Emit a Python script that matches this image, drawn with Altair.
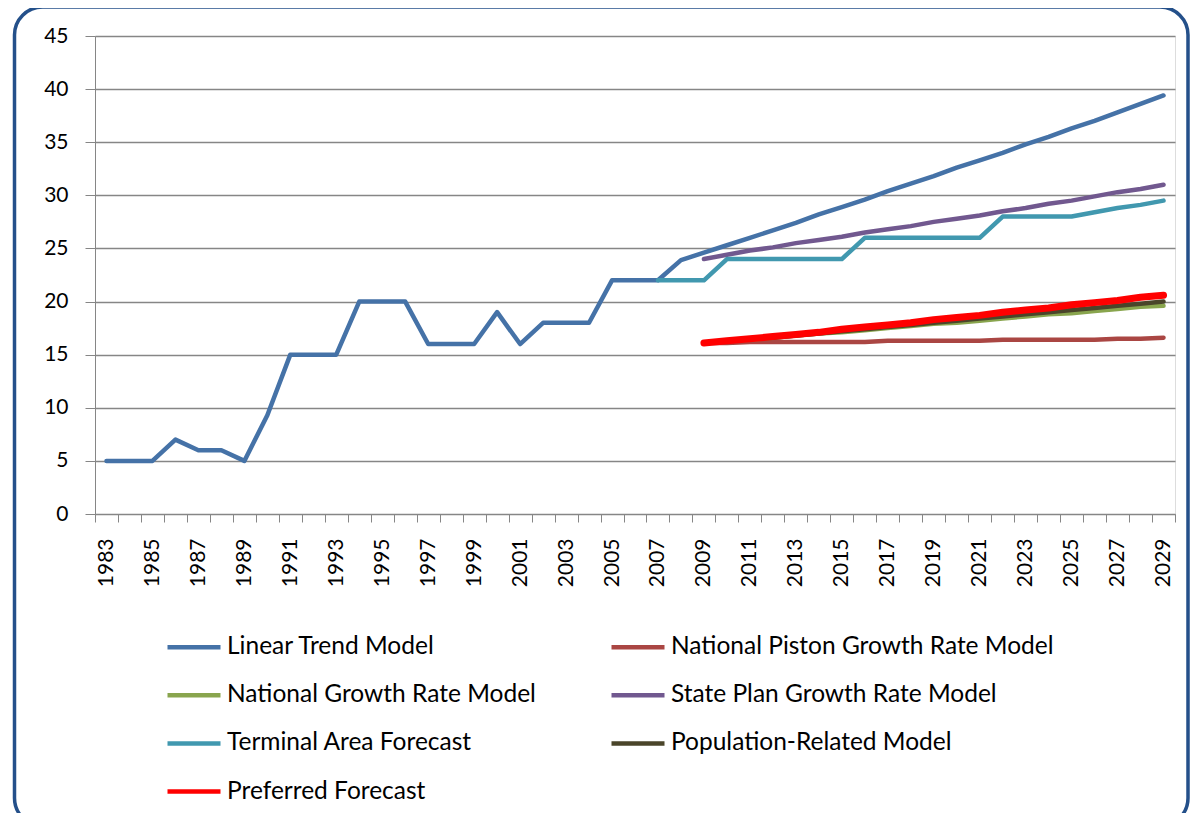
import altair as alt
import pandas as pd

years = list(range(1983, 2030))

series_names = [
    "Linear Trend Model",
    "National Piston Growth Rate Model",
    "National Growth Rate Model",
    "State Plan Growth Rate Model",
    "Terminal Area Forecast",
    "Population-Related Model",
    "Preferred Forecast",
]
series_colors = ["#4572A7", "#AA4643", "#89A54E", "#71588F", "#4198AF", "#4A452A", "#FF0000"]

# Linear Trend Model: 1983-2029
linear_trend = [5, 5, 5, 7, 6, 6, 5, 9.3, 15, 15, 15, 20, 20, 20, 16, 16, 16, 19, 16, 18,
                18, 18, 22, 22, 22, 23.9, 24.6, 25.3, 26.0, 26.7, 27.4, 28.2, 28.9, 29.6,
                30.4, 31.1, 31.8, 32.6, 33.3, 34.0, 34.8, 35.5, 36.3, 37.0, 37.8, 38.6, 39.4]
# Terminal Area Forecast: 2007-2029
taf_start = 2007
terminal_area = [22, 22, 22, 24, 24, 24, 24, 24, 24, 26, 26, 26, 26, 26, 26, 28, 28, 28, 28,
                 28.4, 28.8, 29.1, 29.5]
# Forecast models: 2009-2029
fc_start = 2009
national_piston = [16.1, 16.1, 16.2, 16.2, 16.2, 16.2, 16.2, 16.2, 16.3, 16.3, 16.3, 16.3,
                   16.3, 16.4, 16.4, 16.4, 16.4, 16.4, 16.5, 16.5, 16.6]
national_growth = [16.1, 16.3, 16.4, 16.6, 16.8, 17.0, 17.1, 17.3, 17.5, 17.7, 17.9, 18.0,
                   18.2, 18.4, 18.6, 18.8, 18.9, 19.1, 19.3, 19.5, 19.6]
state_plan = [24.0, 24.4, 24.8, 25.1, 25.5, 25.8, 26.1, 26.5, 26.8, 27.1, 27.5, 27.8, 28.1,
              28.5, 28.8, 29.2, 29.5, 29.9, 30.3, 30.6, 31.0]
population_related = [16.1, 16.3, 16.5, 16.6, 16.8, 17.0, 17.2, 17.4, 17.6, 17.8, 18.0, 18.2,
                      18.4, 18.6, 18.8, 19.0, 19.2, 19.4, 19.6, 19.8, 20.0]
preferred = [16.1, 16.3, 16.5, 16.7, 16.9, 17.1, 17.4, 17.6, 17.8, 18.0, 18.3, 18.5, 18.7,
             19.0, 19.2, 19.4, 19.7, 19.9, 20.1, 20.4, 20.6]

y_ticks = list(range(0, 50, 5))

series_data = [
    (series_names[0], years[0], linear_trend),
    (series_names[1], fc_start, national_piston),
    (series_names[2], fc_start, national_growth),
    (series_names[3], fc_start, state_plan),
    (series_names[4], taf_start, terminal_area),
    (series_names[5], fc_start, population_related),
    (series_names[6], fc_start, preferred),
]

rows = []
for name, start, vals in series_data:
    for i, v in enumerate(vals):
        rows.append({"year": str(start + i), "value": v, "series": name})
df = pd.DataFrame(rows)

# legend fills column by column: reorder so it reads row by row like the original
legend_order = [0, 2, 4, 6, 1, 3, 5]
legend_domain = [series_names[i] for i in legend_order]
legend_range = [series_colors[i] for i in legend_order]

FONT = "Lato"
W, H = 1080, 478

color = alt.Color(
    "series:N",
    scale=alt.Scale(domain=legend_domain, range=legend_range),
    legend=alt.Legend(
        title=None,
        orient="none",
        legendX=70,
        legendY=582,
        columns=2,
        symbolType="stroke",
        symbolSize=2809,
        symbolStrokeWidth=4.5,
        labelFont=FONT,
        labelFontSize=24.5,
        labelColor="#000000",
        labelOffset=4,
        labelLimit=600,
        rowPadding=7.2,
        columnPadding=66,
    ),
)

x = alt.X(
    "year:O",
    bandPosition=0.5,
    scale=alt.Scale(type="band", domain=[str(y) for y in years], paddingInner=0, paddingOuter=0),
    axis=alt.Axis(
        title=None,
        labelAngle=270,
        labelExpr="(toNumber(datum.value) - 1983) % 2 == 0 ? datum.label : ''",
        labelOverlap=False,
        labelFont=FONT,
        labelFontSize=21,
        labelColor="#000000",
        labelPadding=16,
        tickBand="extent",
        tickSize=8,
        tickColor="#868686",
        domainColor="#868686",
        grid=False,
    ),
)
y = alt.Y(
    "value:Q",
    scale=alt.Scale(domain=[0, 45], nice=False),
    axis=alt.Axis(
        title=None,
        values=y_ticks,
        grid=True,
        gridColor="#868686",
        gridWidth=1.5,
        domainColor="#868686",
        tickColor="#868686",
        tickSize=10,
        labelFont=FONT,
        labelFontSize=21,
        labelColor="#000000",
        labelPadding=17,
    ),
)

frame = alt.Chart(pd.DataFrame({"a": [0]})).mark_rect(
    fillOpacity=0, stroke="#24508A", strokeWidth=3.5, cornerRadius=28
).encode(
    x=alt.value(-80.5), x2=alt.value(1093), y=alt.value(-29), y2=alt.value(790)
)

layers = [frame]
for name in series_names:
    sw = 7 if name == "Preferred Forecast" else 4.5
    layers.append(
        alt.Chart(df)
        .transform_filter(alt.datum.series == name)
        .mark_line(strokeWidth=sw, strokeCap="round", strokeJoin="round")
        .encode(x=x, y=y, color=color)
    )

chart = (
    alt.layer(*layers)
    .properties(
        width=W,
        height=H,
        autosize=alt.AutoSizeParams(type="none"),
        padding={"left": 87, "top": 28, "right": 15, "bottom": 299},
    )
    .configure_view(stroke=None)
    .configure(background="white")
)

chart.save("out.html", embed_options={"renderer": "svg", "actions": False})
